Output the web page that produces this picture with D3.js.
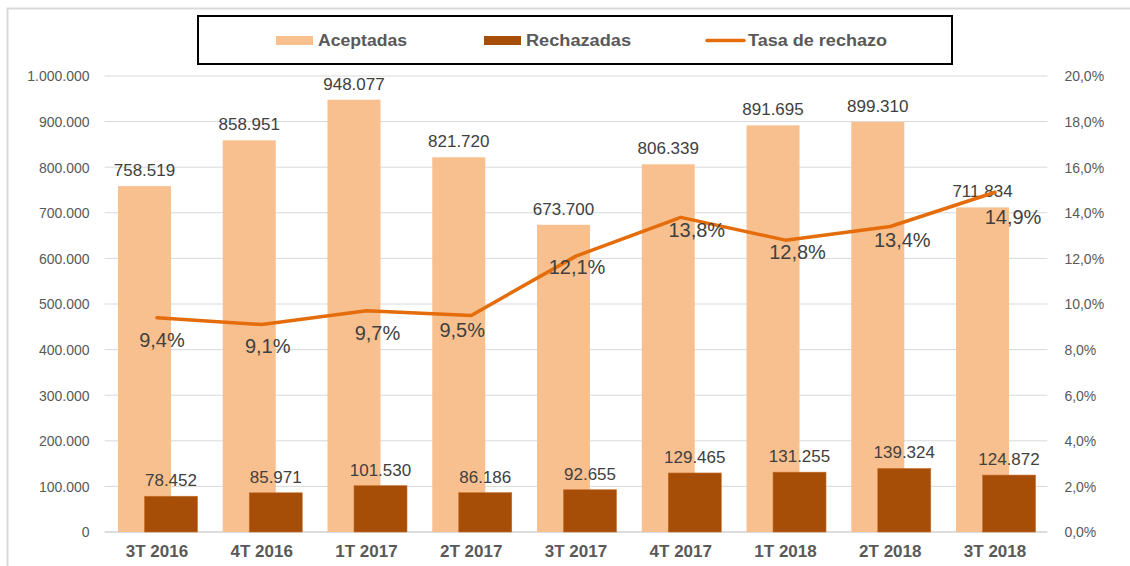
<!DOCTYPE html>
<html>
<head>
<meta charset="utf-8">
<script src="https://cdn.jsdelivr.net/npm/d3@7"></script>
<style>
  body { margin: 0; background: #fff; }
  svg { font-family: "Liberation Sans", Arial, sans-serif; }
</style>
</head>
<body>
<div id="chart"></div>
<script>
var categories = ["3T 2016", "4T 2016", "1T 2017", "2T 2017", "3T 2017", "4T 2017", "1T 2018", "2T 2018", "3T 2018"];
var aceptadas = [758519, 858951, 948077, 821720, 673700, 806339, 891695, 899310, 711834];
var rechazadas = [78452, 85971, 101530, 86186, 92655, 129465, 131255, 139324, 124872];
var tasa = [9.4, 9.1, 9.7, 9.5, 12.1, 13.8, 12.8, 13.4, 14.9];
var leftTicks = [0, 100000, 200000, 300000, 400000, 500000, 600000, 700000, 800000, 900000, 1000000];
var rightTicks = [0, 2, 4, 6, 8, 10, 12, 14, 16, 18, 20];

// hand-placed rate labels in the original (offset from the point, in px)
var rateLabelNudge = [[5, 22], [6, 21], [11, 22], [-9, 15], [1, 11], [16, 13], [12, 12], [12, 14], [18, 25]];

var chart = {};
chart.w = 1130;
chart.h = 566;
chart.left = 104.6;
chart.right = 1047.4;
chart.top = 76;
chart.bottom = 532;

var svg = d3.select("#chart").append("svg")
  .attr("width", chart.w)
  .attr("height", chart.h);

// outer frame
svg.append("rect")
  .attr("x", 7.5).attr("y", 8.5)
  .attr("width", chart.w + 20).attr("height", chart.h + 20)
  .attr("fill", "none")
  .attr("stroke", "#d9d9d9")
  .attr("stroke-width", 2);

var x = d3.scaleBand()
  .domain(categories)
  .range([chart.left, chart.right]);

var y = d3.scaleLinear()
  .domain([0, 1000000])
  .range([chart.bottom, chart.top]);

var y2 = d3.scaleLinear()
  .domain([0, 20])
  .range([chart.bottom, chart.top]);

var fmtNum = function(v) { return d3.format(",")(v).replace(/,/g, "."); };
var fmtPct1 = function(v) { return v.toFixed(1).replace(".", ",") + "%"; };

// gridlines
svg.append("g")
  .selectAll("line")
  .data(leftTicks)
  .enter().append("line")
    .attr("x1", chart.left).attr("x2", chart.right)
    .attr("y1", function(d) { return y(d); })
    .attr("y2", function(d) { return y(d); })
    .attr("stroke", function(d) { return d === 0 ? "#d0d0d0" : "#d9d9d9"; })
    .attr("stroke-width", function(d) { return d === 0 ? 1.5 : 1; });

// left axis
var leftAxis = svg.append("g")
  .attr("transform", "translate(" + (chart.left - 12) + ",0)")
  .call(d3.axisLeft(y).tickValues(leftTicks).tickSize(0).tickFormat(fmtNum));
leftAxis.select(".domain").remove();
leftAxis.selectAll("text")
  .attr("fill", "#595959")
  .style("font-size", "14px")
  .attr("dy", "0.35em");

// right axis
var rightAxis = svg.append("g")
  .attr("transform", "translate(" + (chart.right + 14) + ",0)")
  .call(d3.axisRight(y2).tickValues(rightTicks).tickSize(0).tickFormat(fmtPct1));
rightAxis.select(".domain").remove();
rightAxis.selectAll("text")
  .attr("fill", "#595959")
  .style("font-size", "14px")
  .attr("dy", "0.35em");

// x axis labels
var xAxis = svg.append("g")
  .attr("transform", "translate(0," + (chart.bottom + 10) + ")")
  .call(d3.axisBottom(x).tickSize(0));
xAxis.select(".domain").remove();
xAxis.selectAll("text")
  .attr("fill", "#595959")
  .style("font-size", "17px")
  .style("font-weight", "bold");

var barW = 53;
var offA = -12.5;
var offR = 14;
var cx = function(c) { return x(c) + x.bandwidth() / 2; };

// aceptadas bars
svg.append("g")
  .selectAll("rect")
  .data(aceptadas)
  .enter().append("rect")
    .attr("x", function(d, i) { return cx(categories[i]) + offA - barW / 2; })
    .attr("y", function(d) { return y(d); })
    .attr("width", barW)
    .attr("height", function(d) { return chart.bottom - y(d); })
    .attr("fill", "#f9c08f");

// rechazadas bars
svg.append("g")
  .selectAll("rect")
  .data(rechazadas)
  .enter().append("rect")
    .attr("x", function(d, i) { return cx(categories[i]) + offR - barW / 2; })
    .attr("y", function(d) { return y(d); })
    .attr("width", barW)
    .attr("height", function(d) { return chart.bottom - y(d); })
    .attr("fill", "#a64d07")
    .attr("stroke", "#c8702a")
    .attr("stroke-width", 0.6);

// bar labels
svg.append("g")
  .selectAll("text")
  .data(aceptadas)
  .enter().append("text")
    .attr("x", function(d, i) { return cx(categories[i]) + offA; })
    .attr("y", function(d) { return y(d) - 10; })
    .attr("text-anchor", "middle")
    .attr("fill", "#404040")
    .style("font-size", "17px")
    .text(fmtNum);

svg.append("g")
  .selectAll("text")
  .data(rechazadas)
  .enter().append("text")
    .attr("x", function(d, i) { return cx(categories[i]) + offR; })
    .attr("y", function(d) { return y(d) - 10; })
    .attr("text-anchor", "middle")
    .attr("fill", "#404040")
    .style("font-size", "17px")
    .text(fmtNum);

// rate line
var line = d3.line()
  .x(function(d, i) { return cx(categories[i]); })
  .y(function(d) { return y2(d); });

svg.append("path")
  .datum(tasa)
  .attr("d", line)
  .attr("fill", "none")
  .attr("stroke", "#e46c0a")
  .attr("stroke-width", 3.5)
  .attr("stroke-linejoin", "round")
  .attr("stroke-linecap", "round");

svg.append("g")
  .selectAll("text")
  .data(tasa)
  .enter().append("text")
    .attr("x", function(d, i) { return cx(categories[i]) + rateLabelNudge[i][0]; })
    .attr("y", function(d, i) { return y2(d) + rateLabelNudge[i][1] + 7; })
    .attr("text-anchor", "middle")
    .attr("fill", "#404040")
    .style("font-size", "20px")
    .text(fmtPct1);

// legend
var legend = svg.append("g");
legend.append("rect")
  .attr("x", 198).attr("y", 16)
  .attr("width", 754).attr("height", 48)
  .attr("fill", "#fff")
  .attr("stroke", "#000")
  .attr("stroke-width", 2);

var legendItems = [
  { name: "Aceptadas", x: 276, type: "bar", color: "#f9c08f", len: 89 },
  { name: "Rechazadas", x: 484, type: "bar", color: "#a64d07", len: 105 },
  { name: "Tasa de rechazo", x: 705, type: "line", color: "#e46c0a", len: 139 }
];
legendItems.forEach(function(it) {
  if (it.type === "bar") {
    legend.append("rect")
      .attr("x", it.x).attr("y", 36)
      .attr("width", 37).attr("height", 9)
      .attr("fill", it.color);
  } else {
    legend.append("line")
      .attr("x1", it.x + 2).attr("x2", it.x + 39)
      .attr("y1", 40.5).attr("y2", 40.5)
      .attr("stroke", it.color)
      .attr("stroke-width", 3.5)
      .attr("stroke-linecap", "round");
  }
  legend.append("text")
    .attr("x", it.x + (it.type === "bar" ? 42 : 43))
    .attr("y", 46)
    .attr("fill", "#595959")
    .style("font-size", "16px")
    .style("font-weight", "bold")
    .attr("textLength", it.len)
    .attr("lengthAdjust", "spacingAndGlyphs")
    .text(it.name);
});
</script>
</body>
</html>
